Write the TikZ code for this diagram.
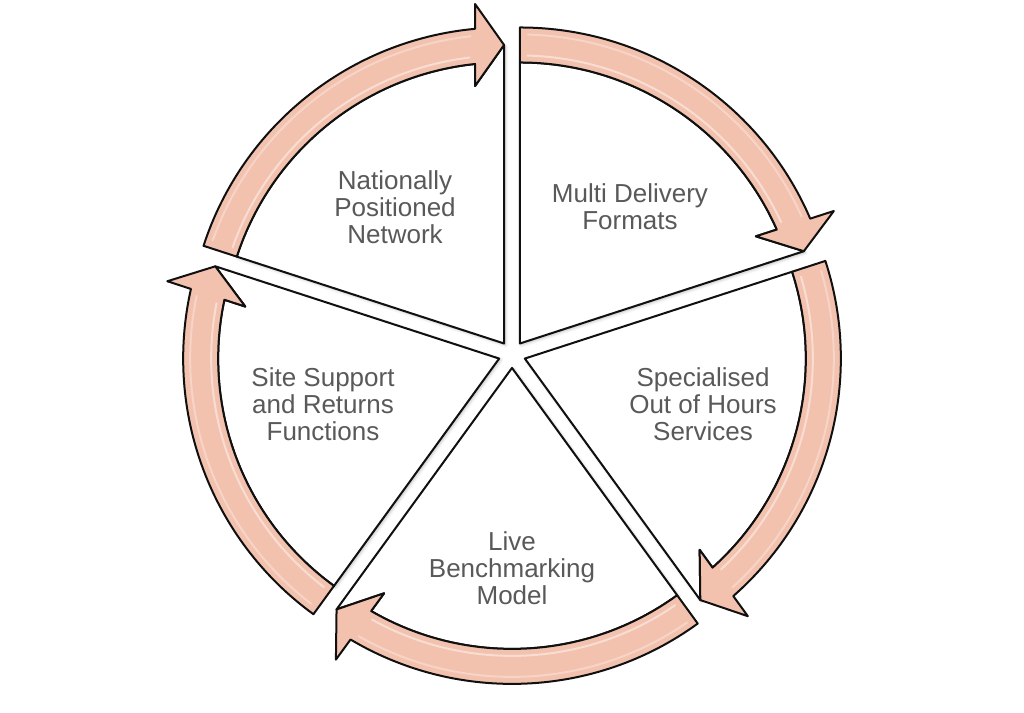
\documentclass[tikz,border=0pt]{standalone}
\usepackage{fontspec}
\setmainfont{Liberation Sans}
\usetikzlibrary{calc, shadows.blur}
\definecolor{salmon}{HTML}{F3C2AF}
\definecolor{rimline}{HTML}{101010}
\definecolor{textgrey}{HTML}{595959}
\tikzset{
    wedge/.style={draw=rimline, line width=2, line join=round, fill=white,
        blur shadow={shadow xshift=1.5pt, shadow yshift=-1.5pt, shadow opacity=25, shadow blur radius=3pt}},
    band/.style={draw=rimline, line width=2, line join=round, fill=salmon},
    gloss/.style={white, line width=2, opacity=0.45, line cap=round},
    wedgetext/.style={text=textgrey, align=center, font=\fontsize{26}{27}\selectfont}
}
% #1 tail angle, #2 head angle (clockwise)
\newcommand{\cycleWedge}[2]{%
    \pgfmathsetmacro{\WedgeMid}{(#1+#2)/2}
    \pgfmathsetmacro{\HeadOut}{#2+5.27}
    \pgfmathsetmacro{\HeadIn}{#2+5.92}
    \coordinate (O) at ($(C)+(\WedgeMid:13.5)$);
    \coordinate (tip) at ($(O)+(#2:298.5)$);
    \coordinate (barbout) at ($(O)+(#2:339.5)+(#2+90:29)$);
    \coordinate (barbin) at ($(O)+(#2:257.5)+(#2+90:29)$);
    \draw[wedge] (O) -- ($(O)+(#1:281)$) arc[start angle=#1, end angle=\HeadIn, radius=281]
        -- (barbin) -- (tip) -- cycle;
    \draw[band] ($(O)+(#1:281)$) -- ($(O)+(#1:316)$) arc[start angle=#1, end angle=\HeadOut, radius=316]
        -- (barbout) -- (tip) -- (barbin) -- ($(O)+(\HeadIn:281)$)
        arc[start angle=\HeadIn, end angle=#1, radius=281] -- cycle;
    \draw[gloss] ($(O)+(#1-1.5:288)$) arc[start angle=#1-1.5, end angle=\HeadIn+1, radius=288];
    \draw[gloss, opacity=0.3] ($(O)+(#1-1.5:309)$) arc[start angle=#1-1.5, end angle=\HeadOut+1, radius=309];
}

\begin{document}
\begin{tikzpicture}[x=1pt, y=1pt]
    \useasboundingbox (0,0) rectangle (1024,712);
    \coordinate (C) at (512,357.6);

    \cycleWedge{162}{90}
    \cycleWedge{90}{18}
    \cycleWedge{18}{-54}
    \cycleWedge{-54}{-126}
    \cycleWedge{-126}{-198}

    \node[wedgetext] (network) at (395,505) {Nationally\\Positioned\\Network};
    \node[wedgetext] (formats) at (630,505) {Multi Delivery\\Formats};
    \node[wedgetext] (hours) at (703,308) {Specialised\\Out of Hours\\Services};
    \node[wedgetext] (model) at (512,144) {Live\\Benchmarking\\Model};
    \node[wedgetext] (support) at (323,308) {Site Support\\and Returns\\Functions};
\end{tikzpicture}
\end{document}
